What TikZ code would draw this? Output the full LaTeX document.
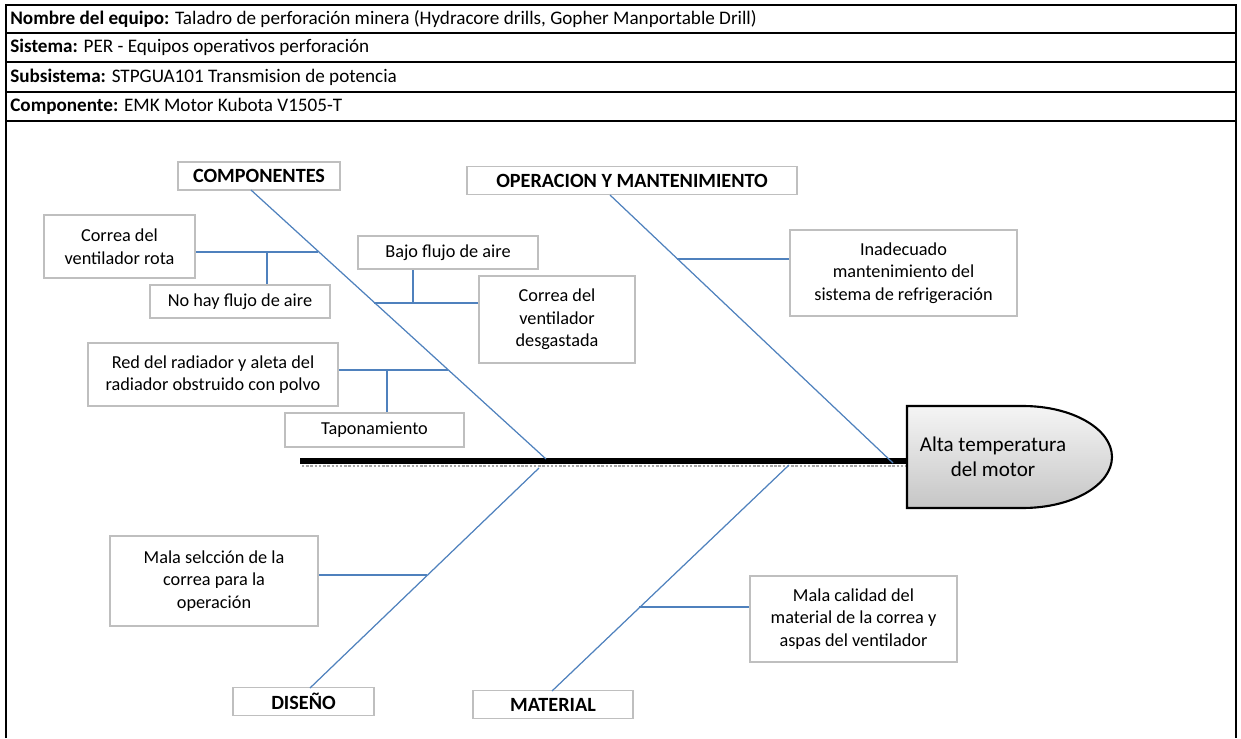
\documentclass[tikz,border=0pt]{standalone}
\usepackage{fontspec}
\setmainfont{Carlito}
\usetikzlibrary{calc}
\definecolor{azulrama}{RGB}{79,129,189}
\definecolor{grisborde}{RGB}{191,191,191}
\tikzstyle{causa}=[draw=grisborde,line width=1pt,fill=white,align=center,inner sep=2pt,font=\fontsize{10.4}{12.8}\selectfont]
\tikzstyle{categoria}=[causa,font=\fontsize{11.5}{13}\selectfont\bfseries]
\tikzstyle{rama}=[draw=azulrama,line width=0.7pt]
\tikzstyle{subrama}=[draw=azulrama,line width=1.3pt]
\tikzstyle{espina}=[draw=black,line width=3.4pt]
\tikzstyle{sombra}=[draw=gray!70,densely dotted,line width=1.4pt]
\tikzstyle{efecto}=[draw=black,line width=1.2pt,top color=gray!8,bottom color=gray!45]
\tikzstyle{marco}=[draw=black,line width=1.2pt]
\tikzstyle{cabecera}=[anchor=west,inner sep=0pt,font=\fontsize{10.9}{12}\selectfont]

\begin{document}
\begin{tikzpicture}[x=0.02cm,y=-0.02cm]
    \useasboundingbox (0,0) rectangle (1241,738);
    % Frame and header rows
    \draw[marco] (6,738) -- (6,5) -- (1236,5) -- (1236,738);
    \foreach \y in {33,62,92,121}
        \draw[marco] (6,\y) -- (1236,\y);
    \node[cabecera] (equipo) at (10,19) {\textbf{Nombre del equipo:} Taladro de perforación minera (Hydracore drills, Gopher Manportable Drill)};
    \node[cabecera] (sistema) at (10,47.5) {\textbf{Sistema:} PER - Equipos operativos perforación};
    \node[cabecera] (subsistema) at (10,77) {\textbf{Subsistema:} STPGUA101 Transmision de potencia};
    \node[cabecera] (componente) at (10,106.5) {\textbf{Componente:} EMK Motor Kubota V1505-T};

    % First we draw the category boxes
    \foreach \pos/\w/\name/\txt in {{(259,176)/162/comp/COMPONENTES}, {(632,180.5)/330/oper/OPERACION Y MANTENIMIENTO}, {(303.5,701.5)/141/dise/DISEÑO}, {(553,704.5)/160/mate/MATERIAL}}
        \node[categoria, minimum width=0.02cm*\w, minimum height=0.56cm] (\name) at \pos {\txt};

    % Then the causes
    \foreach \pos/\w/\h/\name/\txt in {{(119.5,246.5)/151/63/rota/{Correa del\\ventilador rota}}, {(240,301.5)/180/33/nohay/{No hay flujo de aire}}, {(448,252.5)/180/33/bajo/{Bajo flujo de aire}}, {(557,319.5)/156/87/desg/{Correa del\\ventilador\\desgastada}}, {(213,374.5)/250/63/red/{Red del radiador y aleta del\\radiador obstruido con polvo}}, {(374.5,430)/179/34/tapon/{Taponamiento}}, {(903.5,273)/227/86/inad/{Inadecuado\\mantenimiento del\\sistema de refrigeración}}, {(214,581)/208/90/selec/{Mala selcción de la\\correa para la\\operación}}, {(853.5,619)/207/86/calid/{Mala calidad del\\material de la correa y\\aspas del ventilador}}}
        \node[causa, minimum width=0.02cm*\w, minimum height=0.02cm*\h] (\name) at \pos {\txt};

    % Points on the spine and on the branches
    \foreach \pos/\name in {{(300,461)/cola}, {(907,461)/cabeza}, {(251,190)/c1}, {(546,459)/e1}, {(610,195)/c2}, {(893,463)/e2}, {(310,688)/c3}, {(539,468)/e3}, {(552,691)/c4}, {(789,465)/e4}, {(318,252)/j1}, {(267,252)/k1}, {(374,303)/j2}, {(413,303)/k2}, {(448,370)/j3}, {(387,370)/k3}, {(677,259)/j4}, {(427,575)/j5}, {(639,607)/j6}}
        \node[coordinate] (\name) at \pos {};

    % Spine and head
    \path[sombra] ($(cola)+(2,5)$) -- ($(cabeza)+(0,5)$);
    \path[espina] (cola) -- (cabeza);
    \path[efecto] (907,406) -- (1023,406) arc[start angle=90, end angle=-90, x radius=1.78cm, y radius=1.02cm] -- (907,508) -- cycle;
    \node[align=center, font=\fontsize{12}{14}\selectfont] (motor) at (993,457) {Alta temperatura\\del motor};

    % Connect categories with the spine
    \foreach \source/\dest in {c1/e1, c2/e2, c3/e3, c4/e4}
        \path[rama] (\source) -- (\dest);

    % Connect causes with the branches
    \foreach \source/\dest in {j1/rota, j3/red, j5/selec}
        \path[subrama] (\source) -- (\source -| \dest.east);
    \foreach \source/\dest in {j2/desg, j4/inad, j6/calid}
        \path[subrama] (\source) -- (\source -| \dest.west);
    \path[subrama] (k1) -- (k1 |- nohay.north);
    \path[subrama] (k2) -- (k2 |- bajo.south);
    \path[subrama] (k3) -- (k3 |- tapon.north);
\end{tikzpicture}
\end{document}
